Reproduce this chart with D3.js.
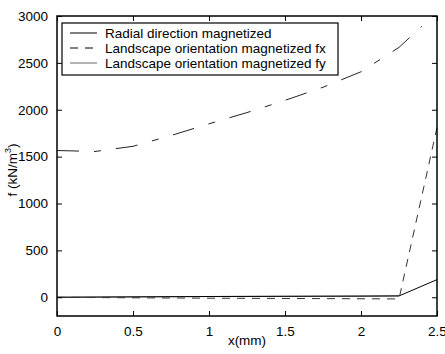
<!DOCTYPE html>
<html>
<head>
<meta charset="utf-8">
<script src="https://cdn.jsdelivr.net/npm/d3@7"></script>
<style>
  body { margin: 0; background: #fff; overflow: hidden; }
  text { font-family: "Liberation Sans", Arial, sans-serif; fill: #000; }
</style>
</head>
<body>
<div id="chart"></div>
<script>
// values
var xTicks = [0, 0.5, 1, 1.5, 2, 2.5];
var yTicks = [0, 500, 1000, 1500, 2000, 2500, 3000];

var radialX = [0, 0.5, 1, 1.5, 2, 2.25, 2.5];
var radialY = [0, 4, 8, 10, 12, 14, 188];

var fxX = [0, 0.5, 1, 1.5, 2, 2.25, 2.5];
var fxY = [0, -6, -10, -13, -16, -18, 1810];

var fyX = [0, 0.5, 1, 1.5, 2, 2.25];
var fyY = [0, 4, 8, 11, 13, 15];

var upperX = [0, 0.25, 0.5, 0.75, 1, 1.25, 1.5, 1.75, 2, 2.25, 2.4];
var upperY = [1565, 1555, 1610, 1725, 1850, 1970, 2100, 2240, 2405, 2665, 2890];

var legendNames = ["Radial direction magnetized",
                   "Landscape orientation magnetized fx",
                   "Landscape orientation magnetized fy"];

var W = 445, H = 354,
    mL = 57, mR = 437, mT = 16, mB = 316,
    fs = 13.5;

var svg = d3.select("#chart").append("svg")
    .attr("width", W).attr("height", H);

var x = d3.scaleLinear().domain([0, 2.5]).range([mL, mR]),
    y = d3.scaleLinear().domain([-200, 3000]).range([mB, mT]);

function zip(xs, ys) { return xs.map(function (v, i) { return [v, ys[i]]; }); }
var line = d3.line().x(function (d) { return x(d[0]); }).y(function (d) { return y(d[1]); });

var plot = svg.append("g");
plot.append("path").datum(zip(upperX, upperY)).attr("d", line)
    .attr("fill", "none").attr("stroke", "#222").attr("stroke-width", 1)
    .attr("stroke-dasharray", "22,15,7,15");
plot.append("path").datum(zip(fyX, fyY)).attr("d", line)
    .attr("fill", "none").attr("stroke", "#777").attr("stroke-width", 1);
plot.append("path").datum(zip(radialX, radialY)).attr("d", line)
    .attr("fill", "none").attr("stroke", "#000").attr("stroke-width", 1);
plot.append("path").datum(zip(fxX, fxY)).attr("d", line)
    .attr("fill", "none").attr("stroke", "#333").attr("stroke-width", 1)
    .attr("stroke-dasharray", "8,7");

// axes, ticks inside on all four sides
var tl = 5;
svg.append("g").attr("transform", "translate(0," + mB + ")")
   .call(d3.axisBottom(x).tickValues(xTicks).tickSize(-tl).tickPadding(10).tickFormat(d3.format("")));
svg.append("g").attr("transform", "translate(0," + mT + ")")
   .call(d3.axisTop(x).tickValues(xTicks).tickSize(-tl).tickFormat(""));
svg.append("g").attr("transform", "translate(" + mL + ",0)")
   .call(d3.axisLeft(y).tickValues(yTicks).tickSize(-tl).tickPadding(9).tickFormat(d3.format("")));
svg.append("g").attr("transform", "translate(" + mR + ",0)")
   .call(d3.axisRight(y).tickValues(yTicks).tickSize(-tl).tickFormat(""));
svg.selectAll(".domain").remove();
svg.selectAll(".tick line").attr("stroke", "#000");
svg.selectAll(".tick text").attr("font-size", fs).attr("font-family", "Liberation Sans, Arial, sans-serif");

svg.append("rect").attr("x", mL).attr("y", mT)
   .attr("width", mR - mL).attr("height", mB - mT)
   .attr("fill", "none").attr("stroke", "#000").attr("stroke-width", 1.5);

svg.append("text").attr("x", (mL + mR) / 2).attr("y", 345)
   .attr("text-anchor", "middle").attr("font-size", fs).text("x(mm)");

var yl = svg.append("text").attr("transform", "translate(17," + ((mT + mB) / 2 + 4) + ") rotate(-90)")
   .attr("text-anchor", "middle").attr("font-size", fs);
yl.append("tspan").text("f (kN/m");
yl.append("tspan").attr("font-size", 9).attr("dy", -6).text("3");
yl.append("tspan").attr("dy", 6).text(")");

// legend
var lg = svg.append("g");
lg.append("rect").attr("x", 62).attr("y", 23).attr("width", 276).attr("height", 52)
  .attr("fill", "#fff").attr("stroke", "#000").attr("stroke-width", 1.2);
var styles = [{c: "#000", d: null}, {c: "#000", d: "8,7"}, {c: "#666", d: null}];
legendNames.forEach(function (name, i) {
  var yy = 33 + i * 15;
  lg.append("line").attr("x1", 70).attr("x2", 97).attr("y1", yy).attr("y2", yy)
    .attr("stroke", styles[i].c).attr("stroke-width", 1)
    .attr("stroke-dasharray", styles[i].d);
  lg.append("text").attr("x", 105).attr("y", yy + 5).attr("font-size", fs).text(name);
});
</script>
</body>
</html>
